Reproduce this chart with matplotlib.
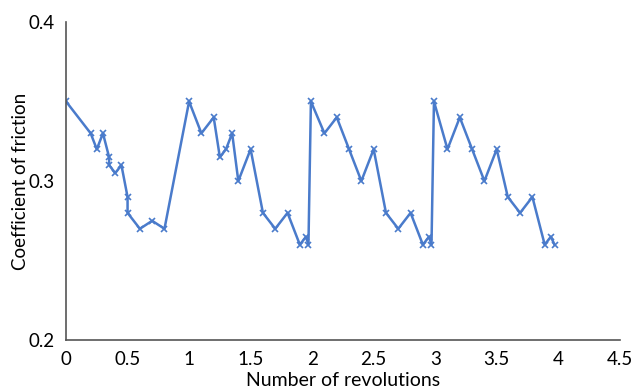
import matplotlib
matplotlib.use("Agg")
import matplotlib.pyplot as plt

plt.rcParams['font.family'] = ['Lato', 'DejaVu Sans']

revolutions = [0, 0.20, 0.25, 0.30, 0.35, 0.35, 0.40, 0.45, 0.50, 0.50, 0.60, 0.70, 0.80,
               1.00, 1.10, 1.20, 1.25, 1.30, 1.35, 1.40, 1.50, 1.60, 1.70, 1.80, 1.90, 1.95, 1.97,
               1.99, 2.10, 2.20, 2.30, 2.40, 2.50, 2.60, 2.70, 2.80, 2.90, 2.95, 2.97,
               2.99, 3.10, 3.20, 3.30, 3.40, 3.50, 3.59, 3.69, 3.79, 3.89, 3.94, 3.97]
friction = [0.35, 0.33, 0.32, 0.33, 0.315, 0.31, 0.305, 0.31, 0.29, 0.28, 0.27, 0.275, 0.27,
            0.35, 0.33, 0.34, 0.315, 0.32, 0.33, 0.30, 0.32, 0.28, 0.27, 0.28, 0.26, 0.265, 0.26,
            0.35, 0.33, 0.34, 0.32, 0.30, 0.32, 0.28, 0.27, 0.28, 0.26, 0.265, 0.26,
            0.35, 0.32, 0.34, 0.32, 0.30, 0.32, 0.29, 0.28, 0.29, 0.26, 0.265, 0.26]

x_ticks = [0, 0.5, 1, 1.5, 2, 2.5, 3, 3.5, 4, 4.5]
x_labels = ['0', '0.5', '1', '1.5', '2', '2.5', '3', '3.5', '4', '4.5']
y_ticks = [0.2, 0.3, 0.4]
y_labels = ['0.2', '0.3', '0.4']

fig = plt.figure(figsize=(6.35, 3.91), dpi=100)
ax = fig.add_axes([0.104, 0.13, 0.872, 0.814])

ax.plot(revolutions, friction, color='#4a7bcb', lw=1.8, marker='x', ms=5, mew=1.2)

ax.set_xlim(0, 4.5)
ax.set_ylim(0.2, 0.4)
ax.set_xticks(x_ticks)
ax.set_xticklabels(x_labels)
ax.set_yticks(y_ticks)
ax.set_yticklabels(y_labels)
ax.tick_params(length=0, labelsize=13.5, colors='black')
ax.tick_params(axis='x', pad=8)
ax.tick_params(axis='y', pad=8)

for side in ['top', 'right']:
    ax.spines[side].set_visible(False)
for side in ['left', 'bottom']:
    ax.spines[side].set_color('#555555')
    ax.spines[side].set_linewidth(1.2)

ax.set_xlabel('Number of revolutions', fontsize=14, labelpad=3)
ax.set_ylabel('Coefficient of friction', fontsize=13.5, labelpad=0)

fig.savefig('out.png', dpi=100)
